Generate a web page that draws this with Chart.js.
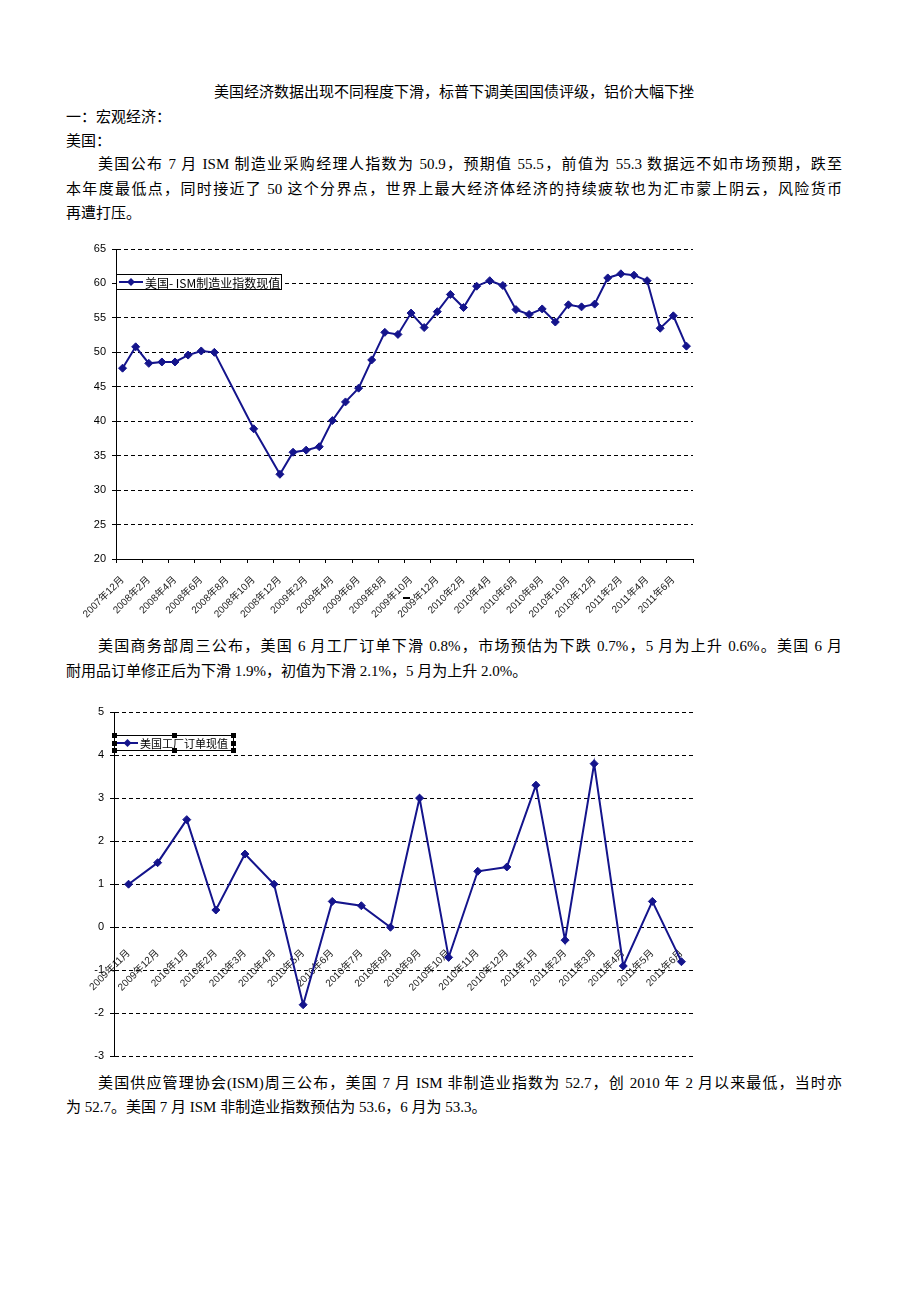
<!DOCTYPE html>
<html>
<head>
<meta charset="utf-8">
<script src="https://cdn.jsdelivr.net/npm/chart.js@4/dist/chart.umd.min.js"></script>
<style>
  body { margin: 0; background: #fff; }
  .page { position: relative; width: 920px; height: 1302px; }
  .ln { position: absolute; left: 66px; width: 776px; height: 20px; line-height: 20px;
        font-family: "Liberation Serif", "Noto Sans CJK SC", serif; font-size: 15px; color: #000;
        white-space: nowrap; }
  .j { text-align: justify; text-align-last: justify; white-space: normal; }
  .ind { text-indent: 32px; }
  .box { position: absolute; }
</style>
</head>
<body>
<div class="page">
  <div class="ln" style="top:82px;text-align:center">美国经济数据出现不同程度下滑，标普下调美国国债评级，铝价大幅下挫</div>
  <div class="ln" style="top:107px">一：宏观经济：</div>
  <div class="ln" style="top:131px">美国：</div>
  <div class="ln j ind" style="top:154px">美国公布 7 月 ISM 制造业采购经理人指数为 50.9，预期值 55.5，前值为 55.3 数据远不如市场预期，跌至</div>
  <div class="ln j" style="top:179px">本年度最低点，同时接近了 50 这个分界点，世界上最大经济体经济的持续疲软也为汇市蒙上阴云，风险货币</div>
  <div class="ln" style="top:203px">再遭打压。</div>

  <div class="box" style="left:65px;top:235px"><canvas id="c1" width="645" height="385"></canvas></div>
  <div class="box" style="left:403px;top:597px;width:7px;height:2px;background:#000"></div>

  <div class="ln j ind" style="top:636px">美国商务部周三公布，美国 6 月工厂订单下滑 0.8%，市场预估为下跌 0.7%，5 月为上升 0.6%。美国 6 月</div>
  <div class="ln" style="top:661px">耐用品订单修正后为下滑 1.9%，初值为下滑 2.1%，5 月为上升 2.0%。</div>

  <div class="box" style="left:65px;top:690px"><canvas id="c2" width="645" height="379"></canvas></div>

  <div class="ln j ind" style="top:1073px">美国供应管理协会(ISM)周三公布，美国 7 月 ISM 非制造业指数为 52.7，创 2010 年 2 月以来最低，当时亦</div>
  <div class="ln" style="top:1097px">为 52.7。美国 7 月 ISM 非制造业指数预估为 53.6，6 月为 53.3。</div>
</div>

<script>
// ISM manufacturing index, monthly
const ismMonths = ['2007年12月', '2008年1月', '2008年2月', '2008年3月', '2008年4月', '2008年5月', '2008年6月', '2008年7月',
  '2008年8月', '2008年9月', '2008年10月', '2008年11月', '2008年12月', '2009年1月', '2009年2月', '2009年3月',
  '2009年4月', '2009年5月', '2009年6月', '2009年7月', '2009年8月', '2009年9月', '2009年10月', '2009年11月',
  '2009年12月', '2010年1月', '2010年2月', '2010年3月', '2010年4月', '2010年5月', '2010年6月', '2010年7月',
  '2010年8月', '2010年9月', '2010年10月', '2010年11月', '2010年12月', '2011年1月', '2011年2月', '2011年3月',
  '2011年4月', '2011年5月', '2011年6月', '2011年7月']
const ismValues = [47.7, 50.8, 48.4, 48.6, 48.6, 49.6, 50.2, 50.0,
  null, null, 38.9, null, 32.3, 35.5, 35.8, 36.3,
  40.1, 42.8, 44.8, 48.9, 52.9, 52.6, 55.7, 53.6,
  55.9, 58.4, 56.5, 59.6, 60.4, 59.7, 56.2, 55.5,
  56.3, 54.4, 56.9, 56.6, 57.0, 60.8, 61.4, 61.2,
  60.4, 53.5, 55.3, 50.9]
const ismLabel = '美国- ISM制造业指数现值'

// factory orders, monthly % change
const orderMonths = ['2009年11月', '2009年12月', '2010年1月', '2010年2月', '2010年3月', '2010年4月', '2010年5月',
  '2010年6月', '2010年7月', '2010年8月', '2010年9月', '2010年10月', '2010年11月', '2010年12月',
  '2011年1月', '2011年2月', '2011年3月', '2011年4月', '2011年5月', '2011年6月']
const orderValues = [1.0, 1.5, 2.5, 0.4, 1.7, 1.0, -1.8, 0.6, 0.5, 0.0,
  3.0, -0.7, 1.3, 1.4, 3.3, -0.3, 3.8, -0.9, 0.6, -0.8]
const orderLabel = '美国工厂订单现值'

const NAVY = '#14148c'
const FONT = '"Liberation Sans", "Noto Sans CJK SC", sans-serif'

// excel-style legend box drawn inside the plot
const boxLegend = {
  id: 'boxLegend',
  afterDraw(chart, args, opts) {
    const ctx = chart.ctx
    const area = chart.chartArea
    const ds = chart.data.datasets[0]
    const x = Math.round(area.left + opts.dx), y = Math.round(area.top + opts.dy)
    const w = opts.width, h = opts.height
    ctx.save()
    ctx.fillStyle = '#fff'
    ctx.fillRect(x, y, w, h)
    ctx.strokeStyle = '#000'
    ctx.lineWidth = 1
    ctx.strokeRect(x + 0.5, y + 0.5, w, h)
    const my = y + h / 2 + 0.5
    ctx.strokeStyle = ds.borderColor
    ctx.lineWidth = 2
    ctx.beginPath()
    ctx.moveTo(x + 3, my)
    ctx.lineTo(x + opts.lineLen, my)
    ctx.stroke()
    const cx = x + 3 + (opts.lineLen - 3) / 2
    ctx.fillStyle = ds.borderColor
    ctx.beginPath()
    ctx.moveTo(cx, my - 4); ctx.lineTo(cx + 4, my); ctx.lineTo(cx, my + 4); ctx.lineTo(cx - 4, my)
    ctx.closePath()
    ctx.fill()
    ctx.fillStyle = '#000'
    ctx.font = opts.fontSize + 'px "Noto Sans CJK SC", sans-serif'
    ctx.textBaseline = 'middle'
    ctx.fillText(ds.label, x + opts.lineLen + 2, my + 1)
    if (opts.handles) {
      const pts = [[0, 0], [w / 2, 0], [w, 0], [0, h / 2], [w, h / 2], [0, h], [w / 2, h], [w, h]]
      ctx.fillStyle = '#000'
      pts.forEach(p => ctx.fillRect(Math.round(x + p[0] - 2), Math.round(y + p[1] - 2), 5, 5))
    }
    ctx.restore()
  }
}

new Chart(document.getElementById('c1'), {
  type: 'line',
  data: {
    labels: ismMonths,
    datasets: [{
      label: ismLabel,
      data: ismValues,
      borderColor: NAVY,
      backgroundColor: NAVY,
      borderWidth: 2,
      pointStyle: 'rectRot',
      pointRadius: 4,
      pointBorderWidth: 1,
      pointBackgroundColor: NAVY,
      pointBorderColor: NAVY,
      spanGaps: true,
      tension: 0
    }]
  },
  options: {
    responsive: false,
    animation: false,
    devicePixelRatio: 1,
    layout: { padding: { top: 14, right: 17, left: 0, bottom: 0 } },
    plugins: {
      legend: { display: false },
      tooltip: { enabled: false },
      boxLegend: { dx: 0, dy: 25, width: 165, height: 15, lineLen: 27, fontSize: 12 }
    },
    scales: {
      x: {
        offset: true,
        grid: { offset: true, drawOnChartArea: false, tickLength: 4,
          color: c => (c.index % 2 ? 'rgba(0,0,0,0)' : '#000') },
        border: { color: '#000' },
        ticks: { autoSkip: false, minRotation: 45, maxRotation: 45, padding: 11, color: '#222',
          font: { family: FONT, size: 10 },
          callback: (v, i) => (i % 2 ? '' : ismMonths[i]) },
        afterFit: s => { s.height = 61 }
      },
      y: {
        min: 20, max: 65,
        ticks: { stepSize: 5, padding: 6, color: '#000', font: { family: FONT, size: 11 } },
        grid: { color: '#000', tickLength: 4, tickColor: '#000' },
        border: { color: '#000', dash: [4, 3] },
        afterFit: s => { s.width = 51 }
      }
    }
  },
  plugins: [boxLegend]
})

new Chart(document.getElementById('c2'), {
  type: 'line',
  data: {
    labels: orderMonths,
    datasets: [{
      label: orderLabel,
      data: orderValues,
      borderColor: NAVY,
      backgroundColor: NAVY,
      borderWidth: 2,
      pointStyle: 'rectRot',
      pointRadius: 4,
      pointBorderWidth: 1,
      pointBackgroundColor: NAVY,
      pointBorderColor: NAVY,
      tension: 0
    }]
  },
  options: {
    responsive: false,
    animation: false,
    devicePixelRatio: 1,
    layout: { padding: { top: 22, right: 14, left: 0, bottom: 6 } },
    plugins: {
      legend: { display: false },
      tooltip: { enabled: false },
      boxLegend: { dx: 0, dy: 23, width: 119, height: 15, lineLen: 24, fontSize: 11, handles: true }
    },
    scales: {
      x: {
        position: { y: 0 },
        offset: true,
        grid: { display: false },
        border: { display: false },
        ticks: { autoSkip: false, minRotation: 45, maxRotation: 45, padding: 12, color: '#222',
          font: { family: FONT, size: 10 } }
      },
      y: {
        min: -3, max: 5,
        ticks: { stepSize: 1, padding: 6, color: '#000', font: { family: FONT, size: 11 } },
        grid: { color: '#000', tickLength: 4, tickColor: '#000' },
        border: { color: '#000', dash: [4, 3] },
        afterFit: s => { s.width = 49 }
      }
    }
  },
  plugins: [boxLegend]
})
</script>
</body>
</html>
